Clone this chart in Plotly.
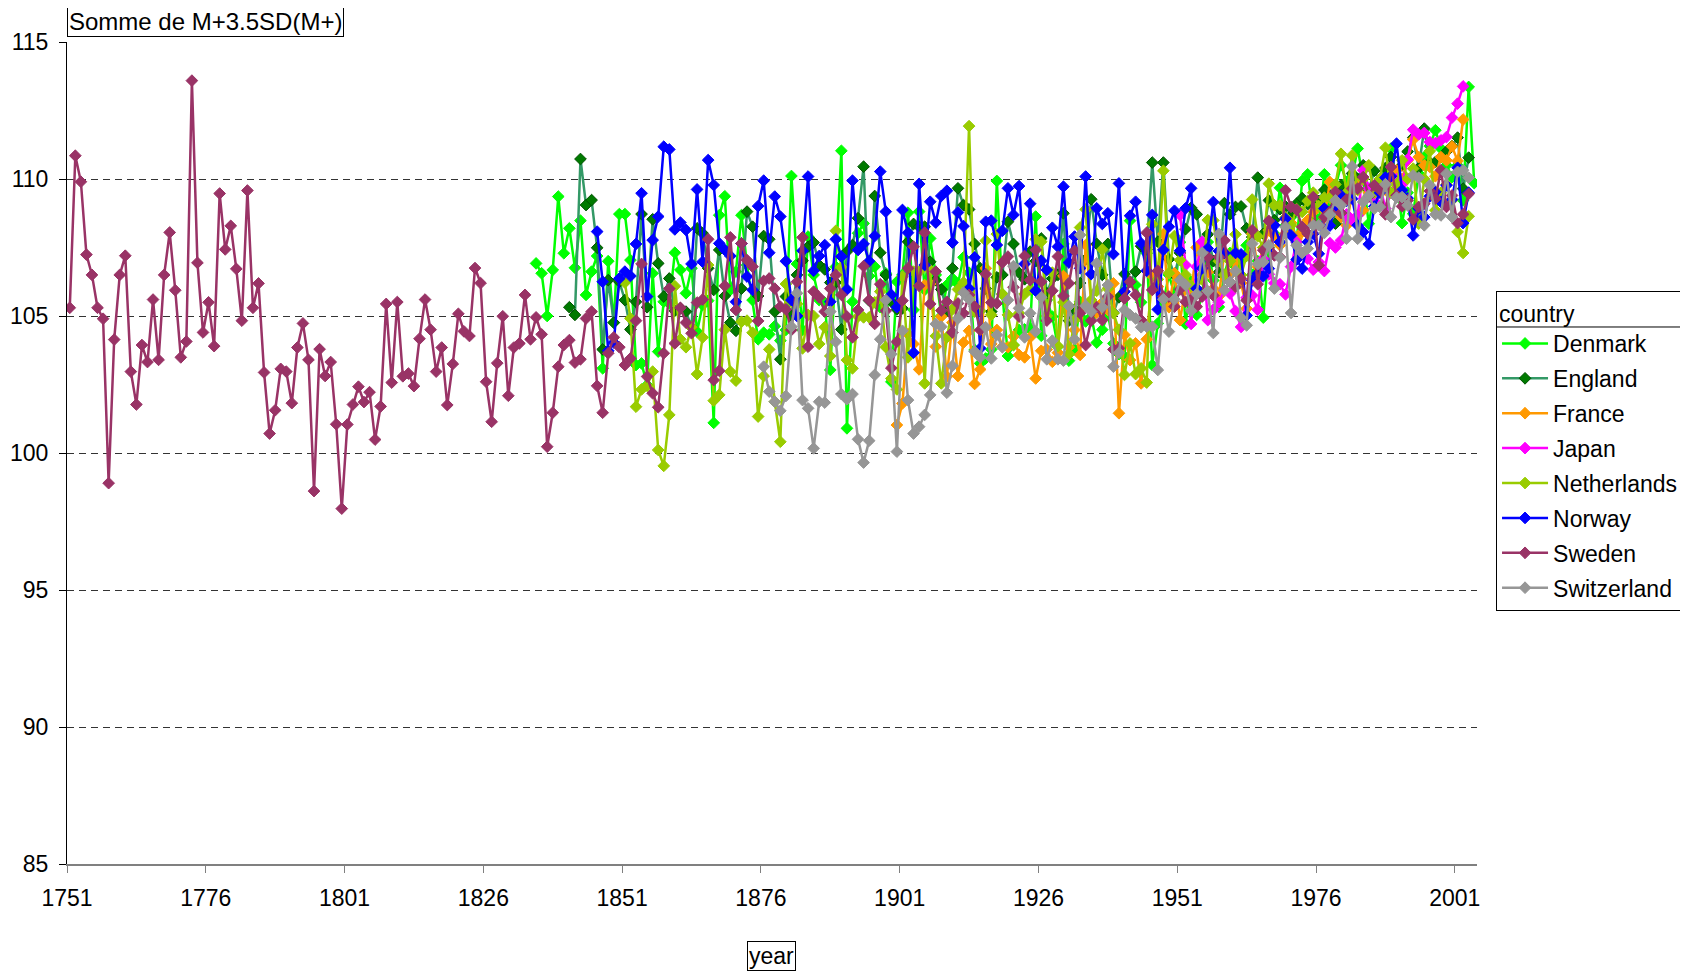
import plotly.graph_objects as go

# ---------------- data ----------------
tick_labels = ["1751", "1776", "1801", "1826", "1851", "1876", "1901", "1926", "1951", "1976", "2001"]

countries = ["Denmark", "England", "France", "Japan", "Netherlands", "Norway", "Sweden", "Switzerland"]

denmark_start = 1835
denmark = [
    106.92, 106.56, 105.0, 106.68, 109.36, 107.29,
    108.2, 106.76, 108.48, 105.77, 106.62, 107.19, 103.09, 107.0, 104.76, 108.72,
    108.72, 107.04, 103.21, 103.27, 102.48, 106.56, 103.7, 105.52, 105.46, 107.31,
    106.68, 105.83, 106.74, 104.43, 105.4, 105.56, 101.1, 108.68, 109.37, 105.95,
    106.62, 108.68, 106.86, 105.58, 104.15, 104.39, 104.33, 104.63, 104.1, 104.49,
    110.11, 106.9, 104.49, 107.9, 106.5, 105.58, 105.49, 103.03, 106.8, 111.03,
    100.9, 105.52, 108.02, 108.38, 106.46, 106.8, 105.32, 106.56, 102.6, 106.25,
    106.5, 108.77, 105.22, 108.81, 105.95, 107.83, 106.5, 105.0, 106.13, 106.37,
    106.17, 107.14, 106.58, 103.76, 103.27, 103.45, 103.78, 109.93, 105.8, 103.54,
    103.94, 104.49, 104.51, 104.55, 108.63, 104.28, 105.58, 104.98, 103.88, 107.63,
    103.37, 103.78, 105.52, 104.8, 104.98, 104.03, 104.5, 105.07, 104.0, 103.61,
    103.52, 108.48, 106.13, 105.5, 107.29, 103.21, 104.73, 105.5, 106.5, 105.8,
    107.69, 104.71, 106.25, 105.04, 105.8, 107.7, 106.3, 105.33, 106.5, 107.3,
    106.8, 107.0, 107.58, 106.5, 107.0, 104.94, 107.5, 108.0, 109.68, 108.3,
    108.6, 107.7, 109.93, 110.17, 108.67, 108.5, 110.17, 109.0, 109.71, 110.5,
    109.9, 110.07, 111.11, 110.0, 108.37, 109.5, 109.8, 110.3, 111.11, 110.0,
    108.39, 109.5, 108.73, 110.2, 110.8, 111.2, 111.78, 111.11, 110.5, 110.07,
    110.5, 109.22, 113.36, 109.85,
]

england_start = 1841
england = [
    105.32, 105.04, 110.73, 109.05, 109.23, 107.49, 103.78, 106.31, 104.76, 106.25,
    105.58, 104.51, 105.52, 108.72, 105.32, 108.53, 106.92, 105.71, 106.37, 105.19,
    105.28, 105.16, 104.59, 108.2, 108.02, 106.74, 105.95, 107.41, 105.73, 104.76,
    104.46, 106.0, 108.81, 108.26, 105.73, 107.92, 107.8, 105.16, 103.42, 105.71,
    105.0, 106.5, 107.02, 107.53, 107.68, 106.86, 106.7, 106.22, 106.22, 104.51,
    107.35, 107.59, 108.57, 110.45, 105.56, 109.38, 107.31, 106.5, 105.52, 105.24,
    105.28, 107.71, 108.36, 108.26, 108.26, 106.98, 106.31, 105.97, 105.19, 106.74,
    109.66, 109.05, 108.89, 107.63, 106.74, 106.0, 105.16, 106.41, 106.5, 108.44,
    107.63, 106.58, 106.34, 107.35, 107.0, 107.83, 105.83, 106.37, 106.5, 108.75,
    104.83, 105.24, 106.2, 107.07, 109.26, 107.63, 106.5, 107.63, 105.12, 105.68,
    106.53, 106.25, 106.62, 107.55, 107.43, 110.6, 107.71, 110.6, 107.07, 106.5,
    107.3, 108.17, 108.95, 108.71, 107.5, 107.98, 107.0, 106.6, 109.12, 108.71,
    108.98, 109.0, 108.2, 107.88, 110.05, 108.0, 109.22, 108.5, 108.9, 109.0,
    108.67, 109.1, 109.3, 109.08, 109.3, 109.2, 109.6, 109.4, 108.37, 109.77,
    109.5, 110.2, 110.0, 110.5, 109.6, 110.3, 109.9, 110.4, 110.8, 110.1,
    110.5, 111.0, 111.51, 110.4, 111.84, 110.6, 110.62, 110.8, 111.0, 111.2,
    111.51, 109.65, 110.78,
]

france_start = 1900
france = [
    101.02, 101.81, 104.34, 103.98, 103.05, 106.13, 106.17, 103.88, 104.98, 102.79, 104.76,
    102.81, 104.03, 104.46, 102.52, 103.05, 106.74, 103.98, 104.49, 103.88, 103.86,
    104.25, 103.58, 103.49, 104.22, 102.72, 103.73, 103.78, 103.33, 103.66, 106.46,
    103.86, 104.49, 103.58, 107.59, 105.52, 105.12, 105.49, 105.22, 106.19, 101.45,
    104.31, 103.39, 104.0, 102.54, 104.15, 106.46, 106.07, 107.99, 105.32, 106.56,
    104.85, 106.0, 105.85, 107.5, 106.5, 106.6, 106.0, 105.72, 107.34, 106.5,
    107.0, 106.2, 105.27, 108.0, 106.8, 107.5, 108.13, 107.94, 107.58, 108.0,
    108.4, 107.82, 108.07, 108.5, 108.8, 109.0, 108.6, 109.89, 109.3, 108.61,
    108.31, 109.5, 109.8, 108.86, 109.5, 109.7, 110.0, 109.6, 110.07, 110.32,
    110.0, 110.68, 111.44, 110.8, 110.5, 110.44, 110.1, 110.8, 110.68, 111.19,
    110.66, 112.17,
]

japan_start = 1951
japan = [
    108.69, 106.86, 104.71, 106.8, 107.71, 104.85, 105.23, 105.5, 105.94, 105.82,
    105.18, 104.6, 105.67, 105.75, 105.23, 107.09, 106.52, 106.2, 106.16, 105.79,
    106.8, 107.7, 107.3, 107.09, 106.69, 106.97, 106.64, 107.66, 107.5, 107.76,
    108.71, 108.5, 108.67, 110.32, 109.65, 109.2, 109.77, 108.92, 109.5, 110.0,
    109.8, 110.71, 111.8, 111.63, 111.68, 111.35, 111.31, 111.41, 111.53, 112.24,
    112.75, 113.38,
]

netherlands_start = 1851
netherlands = [
    106.22, 104.91, 101.69, 102.32, 102.45, 102.97, 100.11, 99.53, 101.39, 106.09,
    104.15, 103.86, 104.59, 102.88, 104.22, 106.86, 101.91, 102.12, 104.5, 102.97,
    102.64, 104.79, 104.83, 104.39, 101.33, 102.81, 103.78, 101.87, 100.41, 106.17,
    105.52, 105.44, 103.82, 105.04, 105.0, 103.98, 104.59, 103.54, 108.11, 106.78,
    103.39, 103.09, 104.98, 104.95, 104.95, 105.5, 105.89, 103.86, 102.72, 102.32,
    106.44, 103.49, 106.62, 106.62, 102.54, 106.68, 104.27, 102.54, 104.22, 105.24,
    105.97, 106.22, 111.93, 105.16, 105.19, 107.75, 105.04, 107.99, 105.8, 105.04,
    103.94, 105.1, 105.8, 105.97, 107.8, 107.71, 105.0, 106.58, 103.9, 105.5,
    103.61, 104.85, 108.23, 108.89, 105.58, 105.92, 107.43, 106.0, 105.1, 104.5,
    102.85, 104.0, 102.88, 103.09, 102.57, 108.35, 106.34, 110.3, 106.56, 107.92,
    107.04, 106.5, 106.1, 106.0, 106.34, 108.5, 108.49, 107.0, 106.5, 107.0,
    107.98, 106.5, 107.2, 109.25, 107.91, 107.5, 109.83, 109.04, 109.04, 108.6,
    108.31, 108.9, 108.8, 109.2, 109.5, 109.0, 109.32, 109.3, 109.8, 110.92,
    109.5, 110.86, 109.6, 110.0, 110.5, 109.5, 110.0, 111.14, 109.5, 109.8,
    110.68, 110.01, 110.38, 108.37, 110.0, 111.02, 108.86, 109.5, 109.8, 109.22,
    108.07, 107.3, 108.64,
]

norway_start = 1846
norway = [
    108.08, 106.25, 103.73, 104.03, 106.37,
    106.62, 106.46, 107.63, 109.48, 105.71, 107.77, 108.63, 111.18, 111.08, 108.16,
    108.41, 108.14, 106.9, 109.62, 106.98, 110.69, 109.78, 107.65, 107.41, 107.19,
    105.52, 107.65, 106.44, 105.95, 109.01, 109.94, 107.31, 109.36, 108.63, 107.0,
    105.58, 105.0, 107.38, 110.09, 106.65, 107.19, 107.59, 105.52, 107.8, 107.17,
    105.97, 109.94, 107.41, 107.63, 107.0, 107.92, 110.27, 108.81, 105.77, 105.32,
    108.87, 108.04, 103.66, 109.82, 106.86, 109.17, 108.41, 109.38, 109.57, 107.68,
    108.78, 108.28, 106.0, 107.14, 103.82, 108.44, 108.48, 107.59, 108.11, 109.66,
    108.69, 109.74, 106.9, 109.1, 105.92, 107.02, 106.68, 108.22, 107.53, 109.72,
    106.95, 107.9, 106.74, 110.09, 106.53, 108.93, 108.36, 108.75, 107.26, 109.84,
    105.89, 108.66, 109.17, 107.65, 106.65, 108.69, 105.24, 107.41, 108.26, 108.84,
    107.38, 108.93, 109.66, 106.0, 106.74, 107.46, 109.16, 107.37, 107.3, 110.41,
    107.3, 107.25, 105.02, 106.3, 106.55, 106.45, 106.73, 108.31, 107.7, 108.55,
    107.94, 107.06, 106.73, 107.7, 108.0, 107.27, 108.92, 108.3, 109.0, 109.4,
    109.2, 109.28, 108.31, 108.07, 107.62, 109.0, 109.5, 110.05, 110.1, 111.29,
    109.59, 109.3, 107.94, 108.92, 108.61, 109.37, 109.53, 109.16, 109.77, 109.25,
    110.41, 108.39, 109.5,
]

sweden_start = 1751
sweden = [
    105.3, 110.85, 109.9, 107.24, 106.5, 105.3, 104.9, 98.9, 104.14, 106.5,
    107.2, 102.97, 101.77, 103.94, 103.32, 105.6, 103.4, 106.5, 108.05, 105.94,
    103.49, 104.07, 113.59, 106.94, 104.4, 105.5, 103.9, 109.47, 107.43, 108.29,
    106.72, 104.83, 109.58, 105.3, 106.19, 102.94, 100.71, 101.56, 103.07, 102.97,
    101.82, 103.85, 104.73, 103.4, 98.61, 103.79, 102.81, 103.32, 101.05, 97.97,
    101.04, 101.77, 102.42, 101.86, 102.22, 100.49, 101.7, 105.44, 102.57, 105.51,
    102.8, 102.9, 102.44, 104.17, 105.6, 104.5, 102.97, 103.85, 101.75, 103.25,
    105.08, 104.44, 104.27, 106.75, 106.2, 102.6, 101.14, 103.28, 104.99, 102.09,
    103.85, 104.0, 105.77, 104.15, 104.95, 104.33, 100.23, 101.47, 103.15, 103.94,
    104.12, 103.3, 103.42, 104.91, 105.16, 102.45, 101.47, 103.64, 104.22, 103.86,
    103.21, 103.45, 104.83, 106.9, 102.79, 102.18, 101.67, 103.64, 106.0, 104.0,
    105.3, 104.76, 104.37, 105.49, 105.6, 107.8, 102.66, 103.0, 106.1, 107.87,
    105.22, 107.65, 107.04, 106.8, 104.82, 106.28, 106.37, 106.0, 105.34, 105.24,
    104.49, 106.25, 107.87, 103.88, 105.89, 105.68, 105.16, 106.0, 106.5, 105.77,
    104.98, 104.22, 105.22, 106.82, 105.58, 104.71, 106.16, 105.19, 103.1, 104.06,
    105.56, 106.74, 107.53, 106.1, 108.04, 105.44, 106.62, 105.2, 105.52, 104.4,
    105.46, 105.1, 105.77, 105.34, 104.49, 106.53, 105.49, 105.46, 106.95, 107.17,
    106.05, 104.98, 107.19, 106.31, 107.41, 106.25, 104.83, 105.92, 107.17, 105.73,
    106.19, 107.38, 105.1, 103.94, 104.83, 105.32, 104.85, 105.71, 103.78, 103.82,
    105.64, 106.25, 105.77, 104.85, 108.04, 105.95, 106.65, 105.71, 105.71, 105.34,
    105.97, 105.52, 105.6, 105.34, 105.71, 107.15, 105.75, 107.15, 107.76, 106.24,
    106.06, 106.36, 105.57, 108.13, 106.16, 107.4, 108.47, 107.21, 107.15, 109.59,
    108.98, 108.88, 108.25, 108.0, 109.34, 106.85, 108.61, 108.8, 109.53, 108.76,
    109.25, 109.65, 109.65, 110.07, 109.37, 109.77, 109.61, 108.71, 110.44, 109.4,
    109.0, 109.22, 108.52, 108.98, 109.1, 109.56, 109.28, 110.32, 108.98, 109.4,
    108.39, 108.71, 109.46,
]

switzerland_start = 1876
switzerland = [
    103.15, 102.24, 101.87, 101.54, 102.08,
    104.61, 105.83, 101.93, 101.63, 100.17, 101.87, 101.84, 105.16, 104.06, 102.15,
    101.96, 102.15, 100.5, 99.65, 100.45, 102.85, 104.15, 105.58, 103.61, 100.05,
    104.46, 101.93, 100.71, 100.96, 101.39, 102.12, 104.71, 104.61, 102.2, 103.18,
    104.91, 105.85, 105.61, 103.7, 103.49, 104.59, 103.45, 104.31, 103.86, 105.58,
    106.82, 105.28, 104.22, 105.1, 104.43, 105.68, 103.42, 104.1, 103.42, 103.37,
    105.36, 104.15, 107.96, 105.37, 105.16, 106.92, 105.32, 106.13, 103.15, 103.66,
    105.22, 105.04, 104.91, 104.59, 104.61, 104.61, 103.03, 105.61, 104.43, 105.61,
    106.31, 106.13, 105.19, 105.8, 107.31, 105.91, 104.38, 108.0, 105.94, 106.24,
    106.64, 104.94, 104.66, 107.64, 106.89, 106.97, 107.58, 106.0, 107.13, 108.25,
    105.11, 107.58, 107.3, 107.46, 108.31, 108.31, 108.03, 108.71, 109.22, 109.04,
    107.82, 110.46, 107.82, 109.16, 109.4, 108.92, 108.98, 109.81, 108.61, 109.32,
    109.34, 109.04, 110.13, 110.05, 108.31, 109.77, 108.71, 108.67, 110.19, 108.61,
    110.26, 110.32, 110.05,
]

# ---------------- styling ----------------
FONT = "Liberation Sans, Arial, sans-serif"
series = [
    ("Denmark", denmark_start, denmark, "#00FF00", "#00FF00", "#00FF00"),
    ("England", england_start, england, "#339966", "#007A00", "#005200"),
    ("France", france_start, france, "#FF9900", "#FF9900", "#FF9900"),
    ("Japan", japan_start, japan, "#FF00FF", "#FF00FF", "#FF00FF"),
    ("Netherlands", netherlands_start, netherlands, "#99CC00", "#99CC00", "#99CC00"),
    ("Norway", norway_start, norway, "#0000FF", "#0000FF", "#0000FF"),
    ("Sweden", sweden_start, sweden, "#993366", "#993366", "#993366"),
    ("Switzerland", switzerland_start, switzerland, "#969696", "#969696", "#969696"),
]

fig = go.Figure()
for name, start, vals, lc, mc, mlc in series:
    years = list(range(start, start + len(vals)))
    fig.add_trace(go.Scatter(
        x=years, y=vals, name=name, mode="lines+markers", legendgroup=name,
        line=dict(color=lc, width=2.5),
        marker=dict(symbol="diamond", size=9, color=mc, line=dict(color=mlc, width=1)),
    ))

first_year = int(tick_labels[0])
# the page body adds an 8px offset, so the figure is 8px smaller and margins shifted
fig.update_layout(
    width=1680, height=965,
    margin=dict(l=59, r=211, t=34, b=109, autoexpand=False),
    paper_bgcolor="white", plot_bgcolor="white",
    font=dict(family=FONT, size=23, color="black"),
    showlegend=True,
    legend=dict(
        title=dict(text="country", font=dict(size=23)),
        x=1.0135, y=0.697, xanchor="left", yanchor="top",
        bgcolor="rgba(0,0,0,0)", bordercolor="black", borderwidth=1,
        font=dict(size=23), itemwidth=46, tracegroupgap=2,
    ),
    xaxis=dict(
        range=[first_year - 0.5, 2004.5],
        tickvals=[int(t) - 0.5 for t in tick_labels],
        ticktext=tick_labels,
        ticks="outside", ticklen=7, tickcolor="#808080", tickwidth=1,
        showline=True, linecolor="#808080", linewidth=2,
        showgrid=False, zeroline=False,
        ticklabelstandoff=5,
        tickfont=dict(size=23),
    ),
    yaxis=dict(
        range=[85, 115], tickvals=[85, 90, 95, 100, 105, 110, 115],
        ticks="outside", ticklen=7, tickcolor="black",
        showline=True, linecolor="black", linewidth=1,
        showgrid=True, gridcolor="#333333", gridwidth=1, griddash="7px,5px",
        zeroline=False, ticklabelstandoff=6,
        tickfont=dict(size=23),
    ),
)

fig.add_annotation(
    text="Somme de M+3.5SD(M+)", xref="paper", yref="paper",
    x=0.0, y=1.044, xanchor="left", yanchor="top", showarrow=False,
    bordercolor="black", borderwidth=1, borderpad=1, bgcolor="white",
    font=dict(size=24),
)
fig.add_annotation(
    text="year", xref="paper", yref="paper",
    x=0.4996, y=-0.094, xanchor="center", yanchor="top", showarrow=False,
    bordercolor="black", borderwidth=1, borderpad=1, bgcolor="white",
    font=dict(size=23),
)
fig.add_shape(type="line", xref="paper", yref="paper",
              x0=1.0135, x1=1.16, y0=0.6533, y1=0.6533,
              line=dict(color="black", width=1))

fig.write_html("out.html")
